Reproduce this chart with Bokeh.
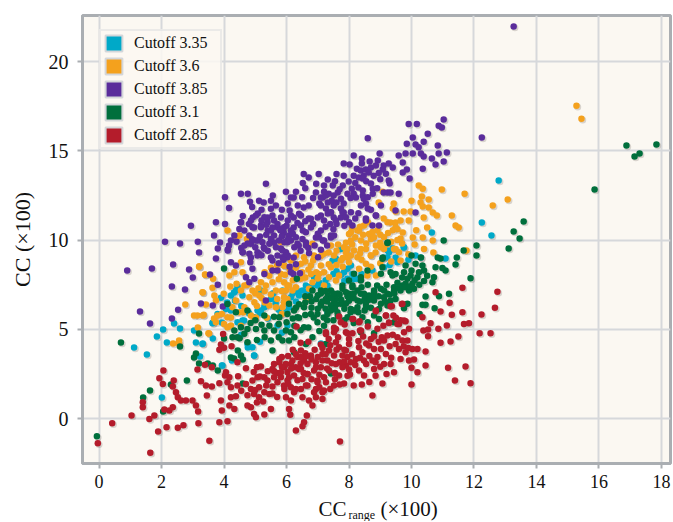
from bokeh.plotting import figure
from bokeh.layouts import column
from bokeh.models import ColumnDataSource, Legend, LegendItem, Label, FixedTicker, Range1d
from bokeh.transform import dodge
from bokeh.embed import file_html
from bokeh.resources import INLINE

x_ticks = [0, 2, 4, 6, 8, 10, 12, 14, 16, 18]
y_ticks = [0, 5, 10, 15, 20]
names = ["Cutoff 3.35", "Cutoff 3.6", "Cutoff 3.85", "Cutoff 3.1", "Cutoff 2.85"]
colors = ["#00a9c8", "#f4a11d", "#5a2c9b", "#006f3c", "#b41c2b"]

teal = [(12.79,13.33),(12.25,10.98),(12.56,10.25),(10.65,10.42),(9.75,9.58),(9.24,9.41),(9.4,9.52),(9.49,9.02),(9.11,9.02),(10.13,9.13),(10.3,9.02),(11.09,8.96),
(1.12,3.98),(1.53,3.59),(1.85,4.59),(2.05,4.99),(2.17,4.26),(2.59,5.04),(2.4,5.32),(2.01,1.18),(3.04,4.93),(3.1,4.26),(3.32,4.2),(3.23,3.47),(3.64,4.48),(3.93,2.97),(4.25,3.25),(3.93,5.38),(3.64,5.38),(4.32,7.06),(4.96,3.53),(4.76,3.98),(4.64,5.49),(5.56,7.0),(7.1,4.2),(5.18,6.05),(5.4,5.6),(4.22,6.05),
(7.95,8.39),(8.06,8.57),(7.84,8.2),(8.11,8.1),(8.27,7.83),(7.95,7.83),(7.74,9.5),(9.28,9.32),(9.23,9.04),(9.12,8.48),(9.76,9.6),(6.88,7.92),(6.62,7.45),(6.51,7.17),(6.4,6.89),(6.14,6.8),(6.99,7.45),(7.2,7.27),(7.47,8.85),(7.58,8.95),(5.87,7.17),(7.31,7.45),
(4.43,7.39),(4.59,6.89),(4.22,6.89),(4.38,7.17),(3.9,6.76),(4.06,6.14),(3.79,5.86),(5.07,6.05),(5.29,6.24),(5.55,6.99),(4.97,5.68),(5.5,6.7),(5.92,6.52),(6.08,6.24),(5.82,5.86),(5.18,7.17),
(3.31,4.18),(3.63,5.34),(3.95,2.97),(4.97,3.53),(4.59,5.49),(4.43,5.4),(4.75,4.18),(4.91,4.0),(5.71,5.21),(6.03,5.21),(7.31,5.96)]
teal_dense = [(6.2,7.0),(6.35,7.15),(6.65,7.1),(6.8,7.4),(7.05,7.6),(7.25,7.75),(7.5,8.1),(7.6,8.25),(7.75,8.05),(7.85,7.7),(8.15,7.8),(8.4,8.1),(8.75,8.3),(9.3,8.6),(9.55,8.75),(9.9,8.9),(5.3,6.35),(5.65,6.45),(5.75,6.1),(6.0,6.0),(6.3,6.55),(6.75,6.7),(5.15,5.9),(4.8,5.9),(4.55,6.3),(4.35,6.6),(4.1,6.5),(4.55,4.7),(5.15,4.3),(5.85,4.8)]

orange = [(15.28,17.53),(15.44,16.8),(11.7,12.6),(10.97,12.83),(13.08,12.27),(12.6,11.93),(11.29,11.37),(11.41,10.81),(11.51,10.7),(10.23,13.05),(10.36,12.88),(10.55,12.27),(10.33,12.44),(10.29,12.1),(10.36,11.88),(10.55,11.82),(10.68,11.54),(10.81,11.37),(10.39,11.26),(10.0,12.2),(9.97,11.6),(9.75,11.6),(9.43,12.04),(9.4,11.76),(9.49,11.6),(8.95,12.1),(9.08,12.7),(9.11,11.2),(9.33,10.98),(9.49,10.98),(9.65,11.09),(9.91,11.09),(9.72,10.42),(9.65,10.08),(10.04,10.14),(10.36,10.14),(10.68,9.97),(11.76,9.41),
(8.06,10.44),(8.27,10.53),(8.48,10.81),(8.64,10.34),(8.91,10.53),(8.06,9.97),(8.38,9.97),(8.7,10.06),(9.12,10.16),(7.84,9.6),(8.16,9.41),(8.54,9.5),(8.86,9.69),(9.12,9.5),(9.44,9.5),(8.7,9.13),(8.27,9.04),(7.95,9.04),
(6.83,9.79),(7.42,9.69),(8.0,10.34),(8.32,10.53),(8.8,10.16),(9.23,11.0),(9.49,10.72),(8.38,9.5),(8.7,9.13),(8.54,8.67),(8.32,8.39),(9.02,9.6),(9.49,9.5),(9.6,9.32),(8.59,8.01),(8.86,8.01),(7.95,9.5),(8.06,9.13),(7.74,8.85),(7.52,9.13),(7.2,9.23),(6.88,9.13),(6.56,9.04),(6.3,9.13),(6.14,8.85),(6.46,8.67),(6.78,8.57),(7.1,8.57),(7.42,8.48),(7.68,8.01),(7.58,7.73),(5.92,8.57),(5.92,7.64),(6.03,7.45),(6.3,7.36),(5.98,7.17),(6.19,7.17),(6.83,7.64),(6.72,7.27),(7.04,8.1),(6.78,8.1),(6.46,7.83),(5.92,6.52),(5.87,6.24),(6.03,6.7),(6.62,6.7),(7.2,7.45),(7.36,7.92),
(4.11,10.53),(4.49,10.25),(4.38,10.06),(4.73,10.06),(5.82,9.88),(3.21,8.53),(3.4,8.05),(3.65,7.83),(3.63,7.32),(3.31,7.08),(3.42,6.39),(3.69,6.89),(3.74,6.61),(3.99,6.99),(2.76,6.39),(3.15,5.77),(3.35,5.81),(4.17,8.01),(4.33,8.2),(4.59,8.2),(4.54,8.76),(4.65,7.45),(4.91,7.17),(5.13,6.89),(4.81,6.8),(4.54,7.17),(4.38,6.61),(4.65,6.24),(4.97,6.52),(5.34,7.45),(5.66,7.17),(5.92,8.57),(5.82,8.1),(5.55,7.64),(5.18,7.64),(5.45,6.33),(5.66,6.24),(5.92,6.8),(6.08,7.45),(4.49,5.96),(4.27,6.24),
(2.37,4.2),(2.56,4.37),(2.56,4.2),(3.04,5.77),(3.32,5.77),(3.2,8.5),(3.39,8.07),(3.32,7.06),(3.16,5.1),(3.52,4.76),(3.68,5.6),(4.22,5.66),(4.54,5.2),(5.02,5.66),(4.0,5.3),
(3.79,5.77),(3.93,5.86),(4.11,5.68),(3.74,5.4),(3.5,4.78),(4.22,5.21),(4.11,5.12),(4.62,5.96),(4.86,5.77),(4.97,5.58),(5.85,5.86),(5.37,5.64)]
orange_dense = [(5.3,8.2),(5.5,8.45),(5.7,8.6),(5.45,8.0),(5.75,7.8),(5.95,8.05),(6.1,8.35),(6.3,8.45),(6.5,8.2),(6.7,8.35),(6.95,8.2),(7.2,8.2),(7.35,8.65),(7.6,8.6),(7.8,8.5),(6.2,7.75),(6.6,7.9),(7.0,7.85),(5.1,7.3),(5.3,7.15),(5.5,6.95),(5.7,6.7),(5.85,7.15),(5.2,6.75),(5.0,7.0),(4.75,7.5),(4.4,7.55),(4.2,7.4),(5.05,6.3),(5.3,6.5),(7.9,9.3),(8.1,9.75),(8.35,9.25),(8.55,9.8),(8.85,9.3),(9.0,9.85),(9.2,9.75),(9.35,9.9),(9.55,10.0),(9.7,9.8),(8.2,10.15),(8.45,10.3),(8.75,10.45),(9.0,10.3),(9.25,10.4),(9.4,10.55),(9.55,10.6),(8.1,10.7),(8.35,10.75),(8.6,11.0),(7.9,9.85),(7.65,9.75),(7.35,9.3),(7.1,9.1),(6.85,8.85),(6.6,8.8),(7.6,9.4),(7.8,9.0),(8.0,8.75),(8.4,8.9),(8.7,8.5),(9.0,8.7),(9.35,8.8),(9.65,8.85),(9.9,9.2),(10.1,9.75),(10.4,9.5),(10.7,9.3),(10.15,10.55),(10.5,10.7)]

purple = [(13.27,21.96),(12.25,15.75),(11.03,16.75),(10.87,16.4),(10.97,16.3),(9.91,16.5),(10.17,16.5),(10.52,15.95),(10.04,15.75),(8.6,15.7),(9.85,15.4),(10.39,15.5),(10.84,15.3),(10.13,15.35),(10.23,15.2),(8.98,14.85),(8.15,14.73),(9.59,14.73),(9.81,14.85),(10.04,14.85),(10.3,14.85),(10.39,14.68),(10.87,14.85),(11.13,14.9),(10.65,14.57),(11.03,14.4),(10.77,14.23),(10.36,14.0),(9.72,14.34),(9.85,13.95),(9.72,13.78),(9.94,13.45),
(7.83,14.29),(8.02,14.23),(8.41,14.57),(8.41,14.29),(8.66,14.4),(8.92,14.45),(8.25,14.0),(8.38,13.9),(8.54,13.95),(8.7,14.06),(8.86,14.17),(8.15,13.6),(8.31,13.5),(8.47,13.6),(8.63,13.78),(8.44,13.45),(7.6,13.7),(7.83,13.6),(7.99,13.28),(7.32,13.39),(7.48,13.05),(7.8,13.05),(8.79,13.6),(9.08,13.95),(9.11,14.17),(9.27,14.29),(9.4,14.06),(9.18,13.72),(9.27,13.33),(9.3,13.17),(8.7,13.17),(8.76,12.88),(8.76,12.6),(8.09,12.88),(8.15,12.6),(8.22,12.38),(8.44,12.77),(8.44,12.5),(8.47,12.32),(9.11,12.66),(9.24,12.66),(9.33,12.66),(9.59,12.6),(7.35,12.6),(7.51,12.5),(7.74,12.32),(7.83,12.04),(7.16,12.38),(7.32,12.1),(7.51,11.93),(7.74,11.76),(7.1,11.93),(7.26,11.76),(7.42,11.54),(7.83,11.54),(7.74,11.26),(8.38,11.93),(8.54,12.04),(8.6,11.76),(8.7,11.7),(9.02,11.93),(8.54,11.2),(8.86,11.37),(9.49,11.65),(10.13,11.54),
(4.03,12.4),(4.16,11.8),(4.54,12.6),(4.76,12.6),(4.83,12.15),(5.34,13.15),(5.98,12.7),(5.56,12.5),(6.55,13.7),(7.03,13.7),(6.71,13.5),(6.52,13.2),(4.92,11.26),(5.08,11.48),(4.54,11.0),(4.8,10.9),(5.12,12.2),(5.27,12.1),(5.5,12.2),(5.66,11.93),(6.04,12.04),(6.36,11.93),(6.55,11.82),(6.71,11.93),(6.94,12.66),(7.1,12.38),(7.26,12.5),(7.64,12.66),(6.23,12.38),(6.14,12.38),(5.4,11.26),(5.6,11.09),(5.82,11.26),(6.04,11.09),(6.23,11.26),(6.46,11.37),(6.71,11.2),(7.0,11.26),(7.32,11.48),(7.51,11.26),(4.96,10.7),(5.18,10.81),(5.4,10.53),(5.72,10.7),(5.91,10.42),(6.23,10.7),(6.52,10.53),(6.78,10.7),(7.1,10.53),(7.42,10.14),(4.22,9.97),(4.76,9.8),(5.08,9.97),(5.27,9.58),(5.6,9.86),(5.82,9.52),(6.14,9.97),(6.39,9.69),(6.62,9.86),(6.94,10.14),(7.16,9.97),(4.12,9.41),(4.6,9.3),(4.86,9.02),(5.12,9.24),(5.5,9.02),(6.04,9.13),(6.23,9.02),
(2.94,10.8),(2.11,9.9),(2.59,9.8),(3.16,9.9),(3.2,9.3),(3.74,11.0),(3.68,10.25),(4.03,10.9),(3.87,9.86),(3.8,9.52),(4.16,9.69),(4.12,9.47),(3.74,8.96),(2.37,8.63),(2.88,8.35),(3.0,7.9),(3.55,8.07),(3.8,7.5),(2.33,7.4),(2.75,7.23),(3.26,6.44),(3.64,6.33),(3.96,6.27),(2.53,6.1),(2.33,5.6),(0.9,8.3),(1.69,8.4),(1.31,6.0),(1.63,5.32),
(4.22,8.76),(4.38,8.57),(4.33,10.25),(4.54,11.0),(4.49,10.62),(4.65,10.53),(4.86,11.09),(5.02,11.37),(4.91,10.72),(5.18,10.72),(5.29,11.28),(5.55,11.37),(5.39,11.0),(5.71,10.9),(5.5,10.53),(5.87,10.62),(4.81,10.25),(5.02,9.97),(5.23,9.88),(5.5,10.06),(5.76,9.97),(4.65,9.69),(4.86,9.79),(5.07,9.32),(5.29,9.51),(5.45,9.79),(5.66,9.6),(5.93,9.88),(4.59,9.32),(4.81,9.23),(4.84,8.76),(5.07,9.13),(5.71,9.13),(5.98,9.32),(4.7,7.92),(4.97,7.83),(4.81,7.64),(5.29,8.1),(5.55,8.29),(5.71,8.29),(5.34,6.61),(4.91,8.39),
(6.14,11.37),(6.4,11.47),(6.78,11.19),(7.1,11.37),(7.42,11.56),(7.79,11.56),(8.06,11.56),(8.86,11.37),(8.54,11.09),(7.58,11.09),(7.9,11.28),(8.11,10.81),(8.75,10.81),(8.96,10.81),(5.92,10.72),(6.14,10.53),(6.46,10.81),(6.62,10.44),(5.87,10.25),(6.08,10.25),(6.3,10.16),(6.51,10.06),(6.03,9.88),(6.62,9.69),(6.35,9.79),(7.04,10.16),(7.2,9.97),(7.42,10.25),(7.52,10.25),(5.87,9.41),(5.98,9.13),(5.87,9.04),(6.03,9.04),(6.72,9.26),(7.01,9.04),(6.14,8.2),(6.22,8.1),(6.43,8.14)]
purple_dense = [(5.2,11.1),(5.35,10.85),(5.55,10.7),(5.8,10.55),(6.0,10.8),(6.2,10.35),(6.35,10.95),(6.6,11.05),(6.85,10.9),(7.0,10.35),(7.25,10.75),(7.5,10.6),(4.4,9.9),(4.55,9.55),(4.9,10.05),(5.15,10.2),(5.35,10.3),(5.6,10.25),(5.85,10.2),(6.05,10.05),(6.25,9.6),(6.45,9.4),(6.7,9.55),(6.9,9.7),(7.1,9.45),(7.3,9.7),(5.0,9.6),(5.2,9.15),(5.4,9.4),(5.55,8.85),(5.75,8.7),(5.9,8.9),(6.1,8.5),(6.3,8.65),(7.2,11.1),(7.4,10.9),(7.6,10.9),(7.85,10.8),(8.0,11.0),(8.2,11.2),(8.3,11.5),(7.05,12.05),(7.2,12.7),(7.45,12.2),(7.6,12.1),(7.7,12.85),(7.95,12.6),(8.05,12.35),(8.3,12.95),(8.6,12.4),(8.9,12.9),(9.0,13.4),(8.95,13.75),(8.55,13.3),(8.2,13.2),(7.55,13.3),(7.2,13.05),(6.95,13.15),(6.6,12.9),(6.85,12.35),(6.5,12.4),(6.3,12.7),(6.1,11.65),(5.85,11.7),(5.5,11.75),(5.2,11.7),(4.9,11.85),(4.6,11.35)]

green = [(16.88,15.29),(17.14,14.68),(17.3,14.85),(17.84,15.35),(15.86,12.83),(13.59,11.04),(13.27,10.48),(13.46,10.08),(13.11,9.52),(12.08,9.69),(12.08,9.13),(11.67,9.41),(11.45,9.02),(11.03,9.97),(10.84,9.02),(10.93,8.96),(9.24,9.86),(10.0,9.13),(10.3,9.02),(9.08,9.02),
(11.89,7.86),(11.41,8.63),(11.09,8.29),(10.77,8.48),(10.99,8.44),(10.72,7.92),(10.67,7.64),(10.35,8.57),(10.4,8.29),(10.13,8.67),(10.24,8.2),(9.97,8.01),(9.87,7.83),(9.81,7.55),(10.03,7.55),(10.19,7.92),(10.08,7.27),(9.92,7.17),(11.2,6.99),(10.88,6.85),(10.45,6.83),(10.35,6.37),(10.45,6.37),(10.74,6.18),(10.26,5.86),(9.76,6.18),
(9.44,7.17),(9.23,6.99),(9.02,7.27),(8.8,7.08),(8.64,6.89),(8.48,6.99),(8.27,7.17),(8.11,7.36),(8.38,7.73),(8.16,8.11),(8.59,8.29),(9.02,8.11),(9.33,8.2),(9.65,7.17),(9.49,6.7),(9.12,6.8),(8.8,6.61),(8.54,6.43),(8.27,6.61),(8.06,6.8),(7.9,7.08),(7.79,7.45),(8.0,7.73),(7.84,6.43),(8.06,6.14),(8.27,6.24),(8.8,5.77),(8.96,5.58),(8.43,5.68),(8.16,6.05),(7.95,5.68),(9.23,6.33),(8.96,6.14),(8.38,4.83),(8.8,4.78),(9.44,5.4),
(-0.07,-1.0),(2.05,0.39),(1.41,1.18),(1.63,1.57),(2.3,1.9),(2.81,2.13),(0.7,4.26),(2.59,4.03),(4.0,8.4),(4.6,1.96),(7.42,2.52),(3.04,3.42),(3.1,3.64),(3.2,3.08),(3.48,3.08),(3.64,2.97),(3.8,2.69),(3.2,4.76),(4.22,3.42),(4.32,3.36),(4.6,3.31),(4.44,3.81),(4.54,3.53),(4.0,4.48),
(4.11,6.42),(4.38,5.96),(4.27,4.56),(4.33,4.93),(4.54,5.12),(4.43,4.56),(4.75,4.28),(5.02,5.02),(5.29,4.93),(5.6,4.93),(5.5,4.37),(5.55,3.81),(5.29,5.77),(4.75,6.05),(4.75,5.02),(5.77,5.68),(5.98,4.93),(6.14,4.83),(5.87,4.37),(6.08,4.37),(6.24,3.71),(6.35,5.68),(6.56,5.12),(6.83,4.56),(6.99,5.4),(6.78,5.86),(6.62,4.18),(7.26,4.18),
(7.1,6.44),(7.32,6.89),(7.51,6.44),(7.64,7.0),(7.42,6.05),(7.19,5.66),(7.64,5.77),(7.1,7.0),(6.87,5.66),
(9.23,9.84),(9.07,8.95),(9.07,8.48),(6.33,7.83),(9.39,8.01),(9.49,8.1),(9.81,8.57),(9.76,8.2),(8.38,7.92),(8.11,7.45),(7.79,7.27),(7.42,7.17),(7.1,7.17),(6.83,7.17),(7.26,6.7),(7.58,6.7),(7.1,6.33),(7.42,6.33),(7.74,6.43),(6.99,5.86),(7.31,5.86),(7.63,5.96),(6.56,6.24),(6.08,6.43),(6.24,6.05),(6.03,5.86),(8.0,6.99),(8.38,6.99),(8.8,7.17),(9.12,7.17),(9.44,7.36),(9.71,7.45),(8.54,6.24),(8.22,6.05),(9.02,6.43),(9.33,6.61),(9.87,6.43)]
green_dense = [(6.6,6.5),(6.8,6.55),(6.95,6.7),(7.15,6.55),(7.3,6.55),(7.45,6.75),(7.6,6.4),(7.75,6.65),(7.9,6.45),(8.0,6.6),(8.15,6.75),(8.35,6.55),(8.5,6.7),(8.65,6.65),(8.8,6.85),(8.95,6.85),(9.15,6.55),(9.3,6.95),(9.45,7.0),(9.6,7.3),(9.8,7.35),(9.95,7.4),(10.1,7.75),(10.25,7.5),(10.4,7.7),(10.5,8.0),(10.0,8.3),(9.7,7.9),(9.55,7.6),(9.2,7.5),(8.9,7.45),(8.6,7.5),(8.4,7.35),(8.15,7.0),(7.95,6.85),(7.7,6.95),(7.5,7.0),(7.25,7.15),(7.0,6.9),(6.75,6.85),(6.6,6.85),(6.4,6.4),(6.3,6.2),(6.8,6.2),(7.0,6.15),(7.25,6.15),(7.55,6.15),(7.85,6.15),(8.05,5.95),(8.3,5.95),(8.5,6.05),(8.7,6.2),(6.6,5.8),(6.4,5.65),(6.2,5.6),(7.3,5.5),(7.5,5.5),(7.85,5.5),(8.15,5.35),(8.6,5.4),(6.0,5.4),(5.75,5.3),(5.45,5.2),(5.2,5.25),(5.0,5.5),(4.85,5.35),(5.6,5.7),(4.5,4.5),(4.65,4.75),(5.3,4.55),(5.05,4.4),(5.75,4.55),(6.25,4.55),(6.45,4.95),(6.7,5.1),(6.25,5.2),(7.05,4.9),(7.2,5.2)]

red = [(-0.04,-1.38),(0.42,-0.26),(1.04,0.17),(1.4,0.91),(1.4,0.63),(1.61,-0.02),(1.77,0.17),(1.64,-1.92),(1.89,-0.73),(2.16,-0.49),(2.52,-0.52),(2.7,-0.37),(3.18,-0.26),(3.53,-1.25),(3.85,-0.21),(4.11,-0.15),(2.06,2.69),(1.93,2.26),(2.04,1.94),(2.39,2.13),(2.36,1.79),(2.46,1.47),(2.52,1.19),(2.62,1.01),(2.78,1.01),(2.99,1.01),(3.1,0.73),(3.17,0.39),(2.09,0.5),(2.25,0.45),(2.36,0.63),(3.45,1.29),(3.26,2.09),(3.42,1.85),(3.61,1.79),(3.15,2.75),(3.39,3.01),(3.61,2.87),(3.85,1.98),(3.9,1.01),(3.93,0.45),(4.03,2.41),(4.17,2.31),(4.11,2.03),(4.06,2.59),(3.85,3.85),(4.0,3.96),(3.9,4.15),(3.97,4.74),(4.24,4.05),(4.43,3.15),(4.7,2.82),(4.45,2.37),(5.05,2.87),(5.18,2.91),(4.22,1.19),(4.38,1.25),(4.17,0.73),(4.33,0.54),(4.22,1.75),(4.43,1.85),(4.75,0.73),(4.86,0.63),(4.96,0.26),(5.02,0.07),(5.29,0.22),(5.5,0.54),
(4.7,1.94),(4.86,1.66),(4.96,1.38),(5.12,1.19),(5.29,1.47),(5.45,1.38),(5.12,1.75),(4.91,2.13),(5.07,2.31),(5.29,2.31),(5.39,2.13),(5.6,2.31),(5.55,2.78),(5.77,3.15),(5.93,2.87),(5.82,2.31),(5.71,2.03),(5.93,1.66),(5.98,1.19),(6.14,1.01),(6.24,1.47),(6.46,1.66),(6.67,1.85),(6.51,1.19),(6.72,1.01),(6.08,0.54),(6.12,0.21),(6.3,-0.67),(6.51,-0.43),(6.56,-0.21),(6.65,0.17),(6.83,0.73),(6.32,5.15),
(6.46,3.81),(6.35,3.44),(6.56,3.25),(6.14,3.06),(6.3,2.87),(6.03,2.59),(6.46,2.78),(6.67,2.5),(6.24,2.41),(6.03,2.13),(6.51,2.22),(6.94,3.15),(7.15,3.62),(7.36,3.81),(7.52,3.53),(6.88,2.69),(7.1,2.87),(7.31,3.25),(7.58,3.06),(7.68,2.41),(6.99,2.13),(7.26,2.03),(7.52,1.85),(7.15,1.47),(7.36,2.69),(6.94,1.66),(6.94,1.19),(7.15,1.1),(7.68,4.0),(6.78,3.53),(6.14,1.75),(7.71,-1.29),(7.26,4.83),(7.58,5.02),(7.52,4.83),
(12.75,7.1),(12.67,6.2),(12.24,5.83),(11.63,7.32),(11.63,5.96),(11.68,5.3),(11.84,5.34),(12.18,4.78),(12.53,4.78),(11.5,4.59),(11.25,4.31),(10.93,4.24),(11.73,2.91),(11.17,2.84),(10.45,2.97),(11.39,2.13),(11.89,1.98),(10.0,1.9),(8.75,1.29),(9.07,1.96),(8.41,1.9),(7.84,1.96),(10.77,7.08),(11.22,6.48),(11.29,5.81),(10.93,5.99),(10.35,5.68),(10.61,5.34),(11.13,5.21),(10.86,5.03),(10.38,4.93),(10.53,4.99),(10.53,4.61),(10.45,3.75),(10.19,2.59),(10.08,3.31),(9.92,3.25),(10.0,2.84),(9.65,3.34),(9.33,3.06),(9.12,3.06),(9.44,2.59),(9.2,2.5),
(9.71,6.43),(9.33,6.29),(9.18,5.77),(9.28,5.36),(8.86,6.05),(9.81,5.45),(9.6,5.3),(9.92,5.03),(9.76,4.83),(9.55,4.56),(9.71,4.37),(9.49,4.18),(9.23,4.65),(9.12,4.37),(8.91,5.03),(8.7,4.46),(8.64,4.09),(8.8,3.9),(9.02,3.9),(9.18,3.62),(8.91,3.44),(9.81,3.71),(10.03,3.9),(10.19,3.9),(9.87,4.37),
(8.0,4.18),(7.9,3.81),(8.32,4.0),(8.43,3.71),(8.22,3.34),(7.95,3.44),(7.79,3.53),(8.06,3.15),(8.48,3.25),(8.75,3.25),(7.9,2.97),(8.32,2.69),(8.48,2.41),(8.8,2.78),(8.03,2.46),(8.35,4.93),(8.11,5.58),(7.9,4.83),(8.11,4.78),(7.79,2.87),(8.32,5.4),(7.74,5.4),
(5.77,3.34),(5.98,3.06),(6.19,3.25),(6.46,3.44),(6.67,3.06),(6.94,2.87),(7.15,3.25),(5.82,2.59),(6.08,2.31),(6.4,2.78),(6.67,2.5),(6.99,2.03),(7.2,2.31),(5.92,1.85),(6.3,1.66),(6.62,1.85),(6.88,1.47),(7.2,1.57),
(9.37,6.29),(9.69,6.42),(8.86,6.01),(9.18,5.77),(9.42,5.77),(9.28,5.36),(8.13,5.58),(8.34,5.45),(7.68,5.71),(7.86,5.27),(7.52,5.08),(7.26,4.74),(7.58,4.28),(7.95,4.78),(8.38,4.93),(9.76,5.49),(9.55,5.3)]
red_dense = [(4.95,2.6),(5.15,2.35),(5.35,1.85),(5.55,1.8),(5.7,2.55),(5.85,2.9),(6.05,3.5),(6.15,2.8),(6.3,3.6),(6.45,3.1),(6.6,3.65),(6.8,3.3),(7.0,3.45),(7.1,4.15),(7.25,3.6),(7.4,4.1),(7.45,3.1),(7.55,2.55),(7.7,3.15),(7.85,3.2),(8.0,2.75),(8.1,3.6),(8.2,3.0),(8.35,3.4),(8.55,3.05),(8.65,3.5),(8.85,3.15),(9.0,2.9),(9.05,4.55),(9.3,4.05),(9.4,4.7),(9.6,3.9),(9.75,4.05),(9.9,3.95),(9.35,3.4),(8.3,4.35),(8.55,4.2),(8.8,4.6),(8.95,4.3),(7.65,4.55),(7.35,4.45),(7.15,3.95),(6.9,3.85),(6.7,4.3),(6.45,4.25),(6.2,3.85),(5.85,3.45),(5.6,3.05),(5.4,2.65),(5.0,1.6),(5.25,0.95),(5.05,0.9),(5.55,1.4),(5.7,1.2),(6.05,1.95),(6.35,2.15),(6.55,2.55),(6.8,2.2),(7.05,2.45),(7.3,2.8),(7.55,2.2),(7.7,1.9),(7.95,2.4),(8.15,1.85),(6.65,3.5),(7.05,1.75),(7.4,1.65),(4.55,1.55),(4.75,1.3),(5.6,2.65),(8.85,2.4),(8.65,2.05),(7.85,3.85),(7.6,3.85),(8.0,4.45),(9.1,5.2),(9.5,5.65),(9.65,5.5),(8.6,5.15),(8.45,4.6)]

series = [teal + teal_dense, orange + orange_dense, purple + purple_dense, green + green_dense, red + red_dense]

p = figure(width=672, height=495, x_range=(-0.53, 18.29), y_range=(-2.52, 22.58),
           output_backend="svg", toolbar_location=None,
           min_border_left=82, min_border_right=2, min_border_top=15, min_border_bottom=32,
           background_fill_color="#fbf8f2", border_fill_color="white",
           outline_line_color="#aaaeb2", outline_line_width=3)

p.xaxis.ticker = FixedTicker(ticks=x_ticks)
p.yaxis.ticker = FixedTicker(ticks=y_ticks)
for ax in (p.xaxis[0], p.yaxis[0]):
    ax.axis_line_color = "#aaaeb2"
    ax.axis_line_width = 3
    ax.major_tick_line_color = "#aaaeb2"
    ax.major_tick_line_width = 2
    ax.major_tick_out = 5
    ax.major_tick_in = 0
    ax.minor_tick_line_color = None
    ax.major_label_text_font = "Liberation Serif"
    ax.major_label_text_color = "#111111"
p.xaxis.major_label_text_font_size = "18px"
p.yaxis.major_label_text_font_size = "20px"
p.xaxis.major_label_standoff = 6
p.yaxis.major_label_standoff = 9
p.yaxis.axis_label = "CC (×100)"
p.yaxis.axis_label_text_font = "Liberation Serif"
p.yaxis.axis_label_text_font_size = "22px"
p.yaxis.axis_label_text_font_style = "normal"
p.yaxis.axis_label_text_color = "#111111"
p.yaxis.axis_label_standoff = 11
p.grid.grid_line_color = "#d6d8db"
p.grid.grid_line_width = 2

sources = [ColumnDataSource(dict(x=[a for a, b in s], y=[b for a, b in s])) for s in series]
for src in sources:
    p.scatter(dodge("x", 0.04, range=p.x_range), dodge("y", -0.07, range=p.y_range), source=src,
              size=7, fill_color="#5a5048", fill_alpha=0.22, line_color=None)
for src, col in zip(sources, colors):
    p.scatter("x", "y", source=src, size=6.5, fill_color=col, line_color=None)

items = []
for nm, col in zip(names, colors):
    proxy = p.quad(left=[float("nan")], right=[float("nan")], bottom=[float("nan")], top=[float("nan")],
                   fill_color=col, line_color="#d4d6d9", line_width=2)
    items.append(LegendItem(label=nm, renderers=[proxy]))
legend = Legend(items=items, location=(17, 314), orientation="vertical",
                glyph_width=21, glyph_height=20, label_height=20, label_width=84,
                label_standoff=10, spacing=3, padding=2, margin=0,
                label_text_font="Liberation Serif", label_text_font_size="16px", label_text_color="#111111",
                background_fill_color="#fbf8f2", background_fill_alpha=0.85,
                border_line_color="#d9dbdd", border_line_width=2)
p.add_layout(legend, "center")

# x-axis title with a subscript: a strip below the plot holding three real text labels
strip = figure(width=672, height=26, x_range=Range1d(82, 670), y_range=Range1d(0, 26),
               x_axis_location=None, y_axis_location=None,
               output_backend="svg", toolbar_location=None,
               min_border_left=0, min_border_right=0, min_border_top=0, min_border_bottom=0,
               outline_line_color=None, background_fill_color="white", border_fill_color="white")
strip.grid.visible = False
for txt, xs, ys, fs in [("CC", 318, 13, "21px"), ("range", 348, 7, "12px"), ("(×100)", 380, 13, "21px")]:
    strip.add_layout(Label(x=xs, y=ys, text=txt, text_baseline="middle",
                           text_font="Liberation Serif", text_font_size=fs, text_color="#111111"))

open("out.html", "w").write(file_html(column(p, strip, spacing=0), INLINE))
